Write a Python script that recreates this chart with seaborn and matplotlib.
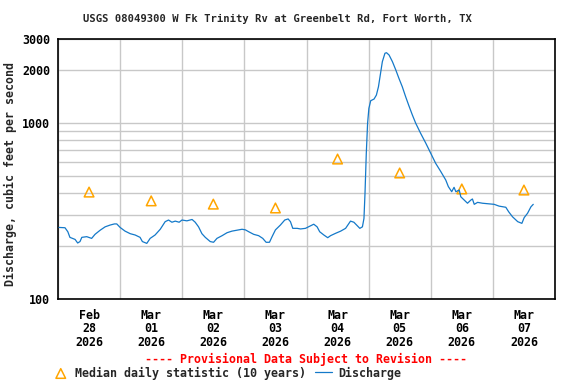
import matplotlib
matplotlib.use("Agg")
import matplotlib.pyplot as plt
import pandas as pd
import seaborn as sns
from matplotlib.ticker import FixedLocator, FixedFormatter, NullFormatter

# Discharge (cfs), hours since 2026-02-28 00:00
hours = [0.4, 2.7, 3.8, 4.6, 6.6, 7.6, 8.5, 9.2, 11.1, 13.0, 14.3, 16.3, 18.2, 20.1,
         21.8, 22.7, 24.0, 25.9, 27.9, 29.8, 31.7, 32.6, 34.3, 35.6, 37.5, 39.5, 41.4,
         42.7, 44.0, 45.3, 46.8, 47.9, 49.8, 51.8, 53.0, 54.3, 55.6, 56.9, 58.8, 60.1,
         61.4, 63.4, 65.3, 67.2, 69.2, 71.1, 72.4, 73.7, 75.6, 77.5, 79.1, 80.4, 81.7,
         82.7, 84.0, 85.9, 87.6, 88.9, 89.8, 90.7, 92.4, 93.7, 95.6, 97.5, 98.8, 100.1,
         101.1, 102.7, 104.2, 105.3, 107.2, 109.2, 111.1, 113.0, 114.3, 115.6, 116.6,
         117.6, 118.2, 118.6, 119.1, 119.6, 120.1, 120.8, 122.1, 123.0, 123.8, 124.6,
         125.3, 126.3, 126.9, 127.9, 129.2, 130.5, 131.7, 133.0, 134.3, 135.6, 136.9,
         138.2, 140.1, 142.1, 144.0, 145.9, 147.9, 149.8, 150.8, 152.1, 153.0, 153.7,
         155.0, 155.6, 156.9, 158.2, 159.5, 160.1, 160.8, 162.1, 164.0, 166.6, 168.5,
         170.4, 173.0, 174.1, 175.6, 177.6, 179.2, 180.1, 181.4, 182.7, 183.6]
cfs = [255, 254, 241, 224, 218, 208, 212, 224, 226, 221, 233, 246, 257, 263,
       267, 267, 255, 243, 235, 231, 224, 212, 207, 221, 231, 249, 275,
       281, 273, 277, 273, 281, 278, 283, 273, 257, 235, 224, 212, 210,
       221, 229, 238, 243, 246, 249, 247, 241, 233, 229, 221, 210, 210,
       226, 247, 263, 281, 285, 275, 252, 252, 250, 252, 260, 266, 257,
       241, 231, 223, 229, 236, 243, 252, 277, 273, 261, 252,
       257, 287, 398, 673, 996, 1211, 1338, 1368, 1441, 1607, 1914,
       2229, 2489, 2508, 2433, 2229, 2000, 1794, 1607, 1410, 1248, 1110,
       996, 873, 767, 673, 590, 529, 474, 435, 407, 431, 407,
       416, 381, 365, 350, 365, 370, 345, 354, 350, 347, 345,
       337, 332, 313, 293, 275, 269, 290, 307, 334, 345]

# Median daily statistic (10 years)
median_hours = [12, 36, 60, 84, 108, 132, 156, 180]
median_cfs = [405, 361, 346, 329, 624, 520, 422, 416]

day_labels = ["Feb\n28\n2026", "Mar\n01\n2026", "Mar\n02\n2026", "Mar\n03\n2026",
              "Mar\n04\n2026", "Mar\n05\n2026", "Mar\n06\n2026", "Mar\n07\n2026"]
y_labels = ["100", "1000", "2000", "3000"]
y_major = [100, 1000, 2000, 3000]
y_minor = [200, 300, 400, 500, 600, 700, 800, 900]

sns.set_style("white")
plt.rcParams["font.family"] = ["DejaVu Sans Mono"]
plt.rcParams["font.weight"] = "bold"

W, H = 576, 384
fig = plt.figure(figsize=(W / 100, H / 100), dpi=100)
ax = fig.add_axes([58 / W, 1 - 299 / H, (555 - 58) / W, (299 - 39) / H])

df = pd.DataFrame({"hours": hours, "cfs": cfs})
mdf = pd.DataFrame({"hours": median_hours, "cfs": median_cfs})

sns.scatterplot(data=mdf, x="hours", y="cfs", ax=ax, marker="^", s=48,
                facecolor="none", edgecolor="#ffa500", linewidth=1.1,
                label="Median daily statistic (10 years)", zorder=3)
sns.lineplot(data=df, x="hours", y="cfs", ax=ax, color="#1479c9", lw=0.9,
             label="Discharge", zorder=4)

ax.set_yscale("log")
ax.set_ylim(100, 3000)
ax.set_xlim(0, 192)

ax.yaxis.set_major_locator(FixedLocator(y_major))
ax.yaxis.set_major_formatter(FixedFormatter(y_labels))
ax.yaxis.set_minor_locator(FixedLocator(y_minor))
ax.yaxis.set_minor_formatter(NullFormatter())

ax.set_xticks([12 + 24 * i for i in range(8)])
ax.set_xticklabels(day_labels)
ax.set_xticks([24 * i for i in range(9)], minor=True)

ax.grid(False)
ax.grid(True, which="minor", axis="x", color="#c8c8c8", lw=1)
ax.grid(True, which="both", axis="y", color="#c8c8c8", lw=1)
ax.set_axisbelow(True)

ax.tick_params(axis="both", which="both", length=0, labelsize=8.4, colors="black")
ax.tick_params(axis="x", pad=7)
ax.tick_params(axis="y", pad=5.5)
for lab in ax.get_xticklabels() + ax.get_yticklabels():
    lab.set_fontweight("bold")
    lab.set_linespacing(1.05)

for sp in ax.spines.values():
    sp.set_color("black")
    sp.set_linewidth(1.2)
    sp.set_visible(True)

ax.set_xlabel("")
ax.set_ylabel("Discharge, cubic feet per second", fontsize=8.4, fontweight="bold")
ax.yaxis.set_label_coords(-0.083, 0.48)

fig.text(277.5 / W, 1 - 19 / H, "USGS 08049300 W Fk Trinity Rv at Greenbelt Rd, Fort Worth, TX",
         ha="center", va="center", fontsize=7.6, fontweight="bold")
fig.text(306 / W, 1 - 359 / H, "---- Provisional Data Subject to Revision ----",
         ha="center", va="center", fontsize=8.4, fontweight="bold", color="red")

handles, labels = ax.get_legend_handles_labels()
if ax.get_legend() is not None:
    ax.get_legend().remove()
fig.legend(handles, labels, loc="center left", bbox_to_anchor=(52 / W, 1 - 373 / H),
           ncol=2, frameon=False, handlelength=1.5, handletextpad=0.5,
           columnspacing=0.7, borderpad=0, borderaxespad=0,
           prop={"family": "DejaVu Sans Mono", "weight": "bold", "size": 8.4})

fig.savefig("out.png", dpi=100)
